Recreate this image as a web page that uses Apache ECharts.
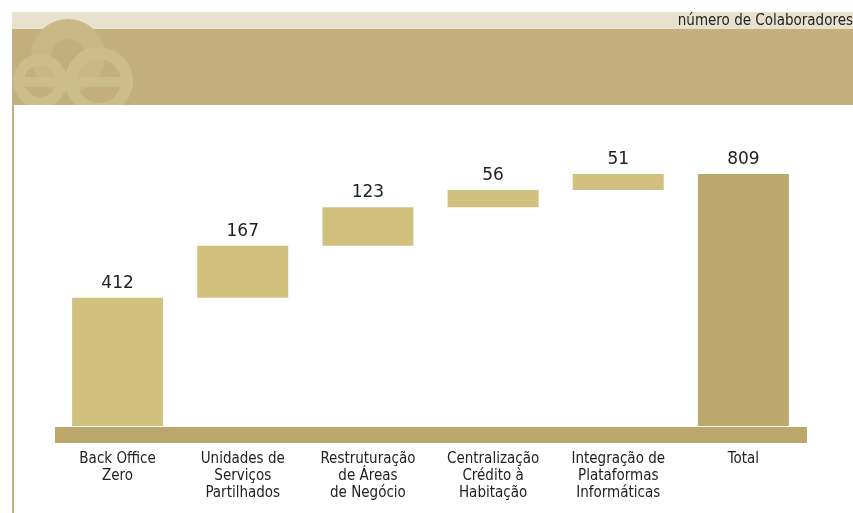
<!DOCTYPE html>
<html><head><meta charset="utf-8">
<script src="https://cdn.jsdelivr.net/npm/echarts@6/dist/echarts.min.js"></script>
<style>html,body{margin:0;padding:0;background:#fff}#c{width:853px;height:513px}</style>
</head><body><div id="c"></div>
<script>
var categories = ['Back Office\nZero', 'Unidades de\nServiços\nPartilhados', 'Restruturação\nde Áreas\nde Negócio', 'Centralização\nCrédito à\nHabitação', 'Integração de\nPlataformas\nInformáticas', 'Total'];
var values = [412, 167, 123, 56, 51, 809];
var isTotal = [false, false, false, false, false, true];
var unitLabel = 'número de Colaboradores';

var offsets = [];
var run = 0;
for (var i = 0; i < values.length; i++) {
  if (isTotal[i]) { offsets.push(0); }
  else { offsets.push(run); run += values[i]; }
}
var barData = values.map(function (v, i) {
  return { value: v, itemStyle: { color: isTotal[i] ? '#bca86c' : '#d2c07e' } };
});

var GL = 55, GR = 47;
var chart = echarts.init(document.getElementById('c'), null, { renderer: 'canvas' });
chart.setOption({
  backgroundColor: '#ffffff',
  animation: false,
  grid: { left: GL, right: GR, top: 114.5, bottom: 87, containLabel: false },
  xAxis: {
    type: 'category',
    data: categories,
    axisLine: { show: false },
    axisTick: { show: false },
    axisLabel: { margin: 25, color: '#222', fontSize: 15, lineHeight: 17, fontFamily: 'DejaVu Sans Condensed', interval: 0 }
  },
  yAxis: { type: 'value', min: 0, max: 1000, show: false, splitLine: { show: false } },
  series: [
    { type: 'bar', stack: 'w', data: offsets, barWidth: 91, itemStyle: { color: 'transparent' }, silent: true },
    { type: 'bar', stack: 'w', data: barData, barWidth: 91,
      label: { show: true, position: 'top', distance: 6, color: '#222', fontSize: 17, fontFamily: 'DejaVu Sans' } }
  ],
  graphic: [
    { type: 'rect', shape: { x: 12, y: 12, width: 841, height: 17 }, style: { fill: '#e8e1cd' }, z: -10 },
    { type: 'rect', shape: { x: 12, y: 29, width: 841, height: 76 }, style: { fill: '#c4b07c' }, z: -10 },
    { type: 'rect', shape: { x: 12, y: 105, width: 2, height: 408 }, style: { fill: '#c4b07c' }, z: -10 },
    { type: 'group', z: -5, clipPath: { type: 'rect', shape: { x: 12, y: 19, width: 125, height: 86 } }, children: [
      { type: 'ring', shape: { cx: 68, cy: 56, r: 37, r0: 17 }, style: { fill: '#c9b886' } },
      { type: 'ring', shape: { cx: 40, cy: 81, r: 27, r0: 16 }, style: { fill: '#cdbd8b' } },
      { type: 'ring', shape: { cx: 99, cy: 81, r: 34, r0: 22 }, style: { fill: '#cdbd8b' } },
      { type: 'rect', shape: { x: 18, y: 77, width: 115, height: 10 }, style: { fill: '#cdbd8b' } }
    ] },
    { type: 'text', right: 0, top: 14, style: { text: unitLabel, fill: '#222', font: '15px "DejaVu Sans Condensed"', textAlign: 'right' } }
  ]
});
var y0 = chart.convertToPixel({ yAxisIndex: 0 }, 0);
chart.setOption({
  graphic: [
    { type: 'rect', id: 'base', shape: { x: GL, y: y0 + 1, width: 853 - GL - GR + 1, height: 16 }, style: { fill: '#bba66b' }, z: 10 }
  ]
});
</script></body></html>
